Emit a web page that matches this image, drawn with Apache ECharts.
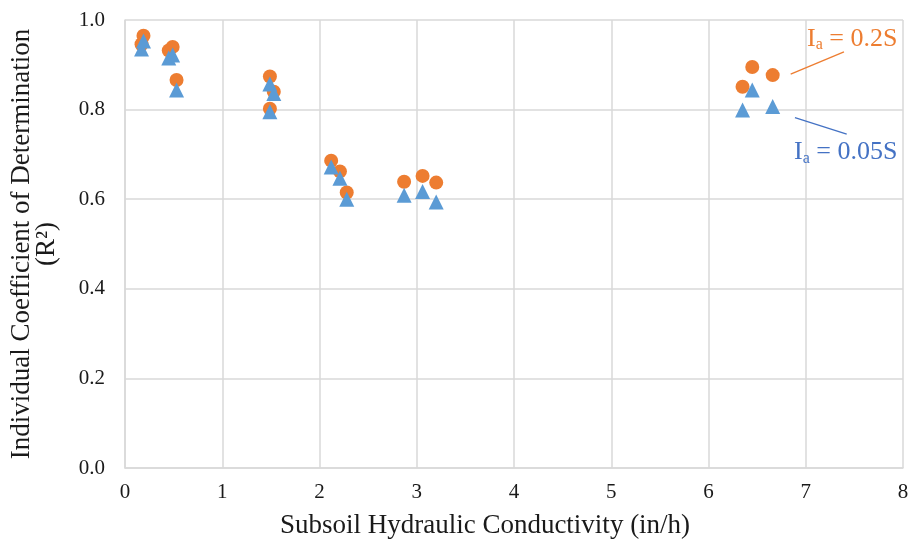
<!DOCTYPE html>
<html>
<head>
<meta charset="utf-8">
<script src="https://cdn.jsdelivr.net/npm/echarts@6/dist/echarts.min.js"></script>
<style>html,body{margin:0;padding:0;background:#fff}#c{width:909px;height:546px}</style>
</head>
<body>
<div id="c"></div>
<script>
// Subsoil hydraulic conductivity (in/h)
var conductivity = [0.17, 0.19, 0.45, 0.49, 0.53, 1.49, 1.53, 1.49, 2.12, 2.21, 2.28, 2.87, 3.06, 3.20, 6.35, 6.45, 6.66];
// Individual R² for Ia = 0.2S
var r2Ia02 = [0.946, 0.965, 0.932, 0.940, 0.866, 0.874, 0.840, 0.802, 0.686, 0.662, 0.615, 0.639, 0.652, 0.637, 0.851, 0.895, 0.877];
// Individual R² for Ia = 0.05S
var r2Ia005 = [0.935, 0.953, 0.915, 0.922, 0.844, 0.857, 0.836, 0.795, 0.672, 0.647, 0.600, 0.609, 0.617, 0.594, 0.799, 0.844, 0.807];
var xTicks = [0, 1, 2, 3, 4, 5, 6, 7, 8];
var yTicks = ['0.0', '0.2', '0.4', '0.6', '0.8', '1.0'];

var ORANGE = '#ED7D31', BLUE = '#5B9BD5';
var FONT = '"Liberation Serif", "Times New Roman", serif';

function pairs(xs, ys) { return xs.map(function (x, i) { return [x, ys[i]]; }); }

var chart = echarts.init(document.getElementById('c'), null, { renderer: 'canvas' });
var option = {
  animation: false,
  textStyle: { fontFamily: FONT },
  grid: { left: 125, right: 6, top: 20, bottom: 78, containLabel: false, outerBoundsMode: 'none' },
  xAxis: {
    type: 'value', min: 0, max: 8, interval: 1,
    name: 'Subsoil Hydraulic Conductivity (in/h)',
    nameLocation: 'middle', nameGap: 44,
    nameTextStyle: { fontFamily: FONT, fontSize: 27, color: '#1a1a1a', padding: [0, 58, 0, 0] },
    axisLine: { show: true, lineStyle: { color: '#d9d9d9', width: 1.5 } },
    axisTick: { show: false },
    axisLabel: { fontFamily: FONT, fontSize: 21, color: '#1a1a1a', margin: 14,
      formatter: function (v) { return xTicks.indexOf(v) >= 0 ? String(v) : ''; } },
    splitLine: { show: true, lineStyle: { color: '#d9d9d9', width: 1.5 } }
  },
  yAxis: {
    type: 'value', min: 0, max: 1, interval: 0.2,
    name: 'Individual Coefficient of Determination\n(R²)',
    nameLocation: 'middle', nameGap: 66, nameRotate: 90,
    nameTextStyle: { fontFamily: FONT, fontSize: 27, color: '#1a1a1a', lineHeight: 25, align: 'center' },
    axisLine: { show: true, lineStyle: { color: '#d9d9d9', width: 1.5 } },
    axisTick: { show: false },
    axisLabel: { fontFamily: FONT, fontSize: 21, color: '#1a1a1a', margin: 20,
      formatter: function (v) { return yTicks[Math.round(v / 0.2)]; } },
    splitLine: { show: true, lineStyle: { color: '#d9d9d9', width: 1.5 } }
  },
  series: [
    {
      name: 'Ia = 0.2S', type: 'scatter', symbol: 'circle', symbolSize: 14,
      itemStyle: { color: ORANGE, opacity: 1 },
      data: pairs(conductivity, r2Ia02),
      markLine: {
        silent: true, symbol: ['none', 'none'], label: { show: false },
        lineStyle: { color: ORANGE, width: 1.3, type: 'solid' },
        data: [[{ coord: [6.845, 0.879] }, { coord: [7.393, 0.929] }]]
      }
    },
    {
      name: 'Ia = 0.05S', type: 'scatter', symbol: 'triangle', symbolSize: 15,
      itemStyle: { color: BLUE, opacity: 1 },
      data: pairs(conductivity, r2Ia005),
      markLine: {
        silent: true, symbol: ['none', 'none'], label: { show: false },
        lineStyle: { color: '#4472C4', width: 1.3, type: 'solid' },
        data: [[{ coord: [6.889, 0.782] }, { coord: [7.421, 0.745] }]]
      }
    }
  ]
};
chart.setOption(option);

function annot(text, color, dataPos) {
  var p = chart.convertToPixel({ gridIndex: 0 }, dataPos);
  return {
    type: 'text', x: p[0], y: p[1],
    style: {
      text: '{m|I}{s|a}{m| = ' + text + '}',
      fill: color, verticalAlign: 'middle', align: 'left',
      rich: {
        m: { fontFamily: FONT, fontSize: 26, fill: color, color: color },
        s: { fontFamily: FONT, fontSize: 16, fill: color, color: color, verticalAlign: 'bottom', padding: [12, 0, 0, 0] }
      }
    }
  };
}
chart.setOption({
  graphic: [
    annot('0.2S', ORANGE, [7.013, 0.958]),
    annot('0.05S', '#4472C4', [6.879, 0.704])
  ]
});
</script>
</body>
</html>
